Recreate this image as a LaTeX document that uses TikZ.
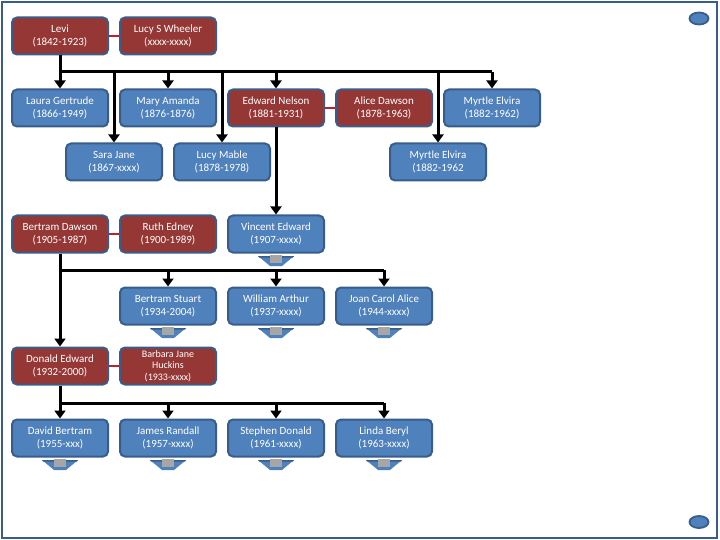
\documentclass[tikz,border=0pt]{standalone}
\usepackage{fontspec}
\setmainfont{Carlito}
\usetikzlibrary{arrows.meta}
\definecolor{boxred}{HTML}{953735}
\definecolor{boxblue}{HTML}{4F81BD}
\definecolor{edgeblue}{HTML}{385D8A}
\definecolor{marrred}{HTML}{C0202C}
\definecolor{chevgray}{HTML}{A6A6A6}
\tikzset{
  person/.style={rounded corners=5pt, line width=2pt, draw=edgeblue, text=white,
    minimum width=96pt, minimum height=37pt, inner sep=0pt, align=center,
    font=\fontsize{11}{13}\selectfont},
  redbox/.style={person, fill=boxred},
  bluebox/.style={person, fill=boxblue},
  conn/.style={line width=3pt, black},
  arr/.style={conn, -{Triangle[width=11pt,length=8pt]}},
  marr/.style={line width=2.6pt, marrred},
}
\begin{document}
\begin{tikzpicture}[x=1pt,y=-1pt]
\useasboundingbox (0,0) rectangle (720,540);
\draw[edgeblue, line width=2.2pt] (2,2) rectangle (717,538);
\filldraw[fill=boxblue, draw=edgeblue, line width=1.8pt] (699,18.5) ellipse [x radius=9.5pt, y radius=6pt];
\filldraw[fill=boxblue, draw=edgeblue, line width=1.8pt] (699,522) ellipse [x radius=9.5pt, y radius=6pt];

\coordinate (b1) at (0,72);
\coordinate (b2) at (0,270);
\coordinate (b3) at (0,403);

% row 1
\node[redbox] (levi) at (60,36) {Levi\\(1842-1923)};
\node[redbox] (lucy) at (168,36) {Lucy S Wheeler\\(xxxx-xxxx)};
% row 2
\node[bluebox] (laura) at (60,108) {Laura Gertrude\\(1866-1949)};
\node[bluebox] (mary) at (168,108) {Mary Amanda\\(1876-1876)};
\node[redbox] (edward) at (276,108) {Edward Nelson\\(1881-1931)};
\node[redbox] (alice) at (384,108) {Alice Dawson\\(1878-1963)};
\node[bluebox] (myrtleA) at (492,108) {Myrtle Elvira\\(1882-1962)};
% row 3
\node[bluebox] (sara) at (114,162) {Sara Jane\\(1867-xxxx)};
\node[bluebox] (mable) at (222,162) {Lucy Mable\\(1878-1978)};
\node[bluebox] (myrtleB) at (438,162) {Myrtle Elvira\\(1882-1962};
% row 4
\node[redbox] (bertram) at (60,234) {Bertram Dawson\\(1905-1987)};
\node[redbox] (ruth) at (168,234) {Ruth Edney\\(1900-1989)};
\node[bluebox] (vincent) at (276,234) {Vincent Edward\\(1907-xxxx)};
% row 5
\node[bluebox] (bstuart) at (168,306) {Bertram Stuart\\(1934-2004)};
\node[bluebox] (william) at (276,306) {William Arthur\\(1937-xxxx)};
\node[bluebox] (joan) at (384,306) {Joan Carol Alice\\(1944-xxxx)};
% row 6
\node[redbox] (donald) at (60,366) {Donald Edward\\(1932-2000)};
\node[redbox, font=\fontsize{10}{11.5}\selectfont] (barbara) at (168,366) {Barbara Jane\\Huckins\\(1933-xxxx)};
% row 7
\node[bluebox] (david) at (60,438) {David Bertram\\(1955-xxx)};
\node[bluebox] (james) at (168,438) {James Randall\\(1957-xxxx)};
\node[bluebox] (stephen) at (276,438) {Stephen Donald\\(1961-xxxx)};
\node[bluebox] (linda) at (384,438) {Linda Beryl\\(1963-xxxx)};

% marriages
\draw[marr] (levi.east) -- (lucy.west);
\draw[marr] (edward.east) -- (alice.west);
\draw[marr] (bertram.east) -- (ruth.west);
\draw[marr] (donald.east) -- (barbara.west);

% Levi's children
\draw[conn] (levi.south) -- (levi.south |- b1) -- (myrtleA.north |- b1);
\foreach \c in {laura,sara,mary,mable,edward,myrtleB,myrtleA}
  \draw[arr] (\c.north |- b1) -- (\c.north);
% Edward's child
\draw[arr] (edward.south) -- (vincent.north);
% Bertram's children
\draw[conn] (bertram.south) -- (bertram.south |- b2) -- (joan.north |- b2);
\foreach \c in {bstuart,william,joan}
  \draw[arr] (\c.north |- b2) -- (\c.north);
\draw[arr] (bertram.south |- b2) -- (donald.north);
% Donald's children
\draw[conn] (donald.south) -- (donald.south |- b3) -- (linda.north |- b3);
\foreach \c in {david,james,stephen,linda}
  \draw[arr] (\c.north |- b3) -- (\c.north);

% chevrons
\foreach \n in {vincent,bstuart,william,joan,david,james,stephen,linda}{
  \fill[boxblue] ([shift={(-18,2.5)}]\n.south) -- ++(36,0) -- ++(-12,10) -- ++(-12,0) -- cycle;
  \fill[edgeblue] ([shift={(-18,2.5)}]\n.south) -- ++(36,0) -- ++(-1,1.5) -- ++(-34,0) -- cycle;
  \fill[chevgray] ([shift={(-6,1)}]\n.south) rectangle ++(12,8);
}
\end{tikzpicture}
\end{document}
